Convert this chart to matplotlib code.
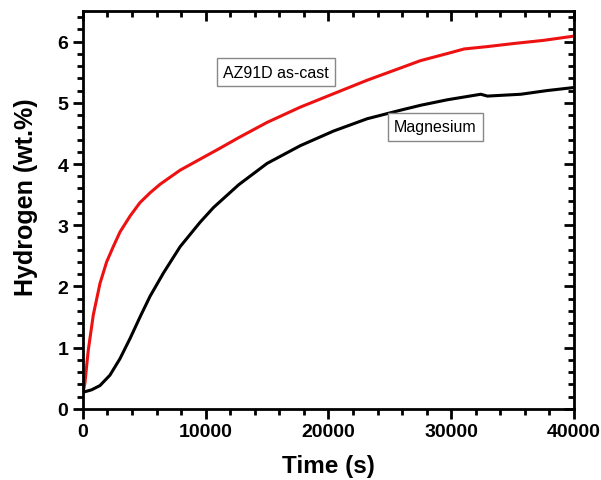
import numpy as np
import matplotlib
matplotlib.use('Agg')
import matplotlib.pyplot as plt
from matplotlib.ticker import MultipleLocator

plt.rcParams['font.family'] = ['Liberation Sans', 'DejaVu Sans']

# hydrogen uptake curves
t_az91 = [0, 160, 430, 840, 1390, 1930, 2470, 3020, 3840, 4650, 5470, 6290,
          7920, 9550, 11180, 12680, 15000, 17710, 20430, 23160, 25880, 27510,
          29960, 31050, 33000, 35130, 37500, 40000]
h_az91 = [0.25, 0.42, 0.95, 1.53, 2.05, 2.4, 2.65, 2.89, 3.15, 3.37, 3.53, 3.67,
          3.9, 4.08, 4.26, 4.43, 4.68, 4.93, 5.15, 5.37, 5.57, 5.69,
          5.82, 5.88, 5.92, 5.97, 6.02, 6.09]

t_mg = [0, 700, 1390, 2200, 3020, 3840, 4650, 5470, 6560, 7920, 9550, 10640,
        12680, 15000, 17710, 20430, 23160, 25880, 27510, 29690, 32410, 32950,
        35670, 37800, 40000]
h_mg = [0.27, 0.31, 0.38, 0.55, 0.82, 1.15, 1.5, 1.84, 2.22, 2.65, 3.05, 3.29,
        3.66, 4.01, 4.3, 4.54, 4.74, 4.88, 4.96, 5.05, 5.14, 5.11,
        5.14, 5.2, 5.25]

fig = plt.figure(figsize=(6.01, 4.81), dpi=100)
ax = fig.add_axes([0.138, 0.148, 0.817, 0.827])

ax.plot(t_az91, h_az91, color='#ee1111', lw=2.2)
ax.plot(t_mg, h_mg, color='black', lw=2.2)

ax.set_xlim(0, 40000)
ax.set_ylim(0, 6.5)
ax.xaxis.set_major_locator(MultipleLocator(10000))
ax.xaxis.set_minor_locator(MultipleLocator(2000))
ax.yaxis.set_major_locator(MultipleLocator(1))
ax.yaxis.set_minor_locator(MultipleLocator(0.2))

for s in ax.spines.values():
    s.set_linewidth(2)

ax.tick_params(which='both', direction='out', width=2, labelsize=14)
ax.tick_params(which='major', length=7)
ax.tick_params(which='minor', length=4)
for lab in ax.get_xticklabels() + ax.get_yticklabels():
    lab.set_fontweight('bold')

# mirrored ticks pointing inward on top and right
top = ax.secondary_xaxis('top')
top.xaxis.set_major_locator(MultipleLocator(10000))
top.xaxis.set_minor_locator(MultipleLocator(2000))
top.tick_params(which='both', direction='in', width=2, labeltop=False)
top.tick_params(which='major', length=7)
top.tick_params(which='minor', length=4)
right = ax.secondary_yaxis('right')
right.yaxis.set_major_locator(MultipleLocator(1))
right.yaxis.set_minor_locator(MultipleLocator(0.2))
right.tick_params(which='both', direction='in', width=2, labelright=False)
right.tick_params(which='major', length=7)
right.tick_params(which='minor', length=4)

ax.set_xlabel('Time (s)', fontsize=17.5, fontweight='bold', labelpad=10)
ax.set_ylabel('Hydrogen (wt.%)', fontsize=18, fontweight='bold')
ax.yaxis.set_label_coords(-0.091, 0.535)

box = dict(boxstyle='square,pad=0.4', fc='white', ec='#888888', lw=1)
ax.text(15710, 5.50, 'AZ91D as-cast', fontsize=11.5, ha='center', va='center', bbox=box)
ax.text(28710, 4.61, 'Magnesium', fontsize=11.5, ha='center', va='center', bbox=box)

fig.savefig('out.png', dpi=100)
